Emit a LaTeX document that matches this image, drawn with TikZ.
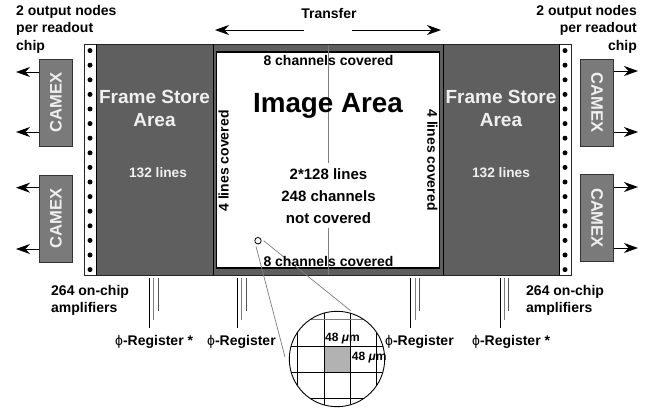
\documentclass[tikz,border=0pt]{standalone}
\usepackage{fontspec}
\setmainfont{Liberation Sans}
\usepackage{xcolor}
\usetikzlibrary{arrows.meta, positioning}
\definecolor{storegray}{RGB}{95, 95, 95}
\definecolor{camexgray}{RGB}{122, 122, 122}
\definecolor{linegray}{RGB}{125, 125, 125}
\definecolor{pixelgray}{RGB}{178, 178, 178}
\definecolor{paletext}{RGB}{240, 240, 240}
\newcommand{\regphi}{{\normalfont ϕ}}
\tikzset{
    lbl/.style={font=\fontsize{14}{17.5}\selectfont\bfseries, inner sep=0pt, align=left},
    whitelbl/.style={font=\fontsize{19}{23}\selectfont\bfseries, text=paletext, inner sep=0pt, align=center},
    camexbox/.style={draw=black!80, line width=0.9pt, fill=camexgray, minimum width=87pt, minimum height=33.5pt, inner sep=0pt, text=paletext, font=\fontsize{16.6}{20}\selectfont\bfseries},
    outarrow/.style={-{Stealth[length=14pt, width=10pt, inset=4.5pt]}, line width=0.9pt},
}
\begin{document}
\begin{tikzpicture}[x=1pt, y=-1pt, >=Stealth]
    \useasboundingbox (0,0) rectangle (649,409);

    % Chip outline and amplifier strips
    \fill[white] (84,44.5) rectangle (571,275.5);
    \fill[storegray] (96,44.5) rectangle (559,275.5);
    \foreach \row in {0,...,15} {
        \fill (90,50.6+14.6*\row) circle (2.5pt);
        \fill (565,50.6+14.6*\row) circle (2.5pt);
    }
    \draw[line width=0.9pt, black!85] (84,44.5) rectangle (571,275.5);
    \draw[line width=0.8pt] (96,44.5) -- (96,275.5);
    \draw[line width=0.8pt] (559,44.5) -- (559,275.5);

    % Image area
    \draw[line width=0.8pt] (213,44.5) -- (213,275.5);
    \draw[line width=0.8pt] (443.5,44.5) -- (443.5,275.5);
    \draw[line width=1.2pt, fill=white] (216.5,52) rectangle (439.5,268);
    \draw[linegray, line width=0.8pt] (328.5,45) -- (328.5,162.7);
    \draw[linegray, line width=0.8pt] (328.5,228) -- (328.5,275);

    % Pointer to the magnified pixels
    \node[draw, circle, line width=0.8pt, fill=white, minimum size=6.5pt, inner sep=0pt] (spot) at (258,240.7) {};
    \coordinate (zoomtop) at (351,311);
    \coordinate (zoomleft) at (285,357);
    \draw[linegray, line width=0.7pt] (spot.east) ++(2,0) -- (zoomtop);
    \draw[linegray, line width=0.7pt] (spot.south) ++(-2,2) -- (zoomleft);

    % Labels inside the image area
    \node[lbl] (covertop) at (328.5,60) {8 channels covered};
    \node[lbl] (coverbot) at (328.5,261) {8 channels covered};
    \node[lbl, rotate=90] (coverleft) at (223.5,161) {4 lines covered};
    \node[lbl, rotate=-90] (coverright) at (432.5,160) {4 lines covered};
    \node[font=\fontsize{27.8}{30}\selectfont\bfseries, inner sep=0pt] (image) at (328,106) {Image Area};
    \node[lbl, font=\fontsize{15}{22.3}\selectfont\bfseries, align=center] (imginfo) at (328.5,196) {2*128 lines\\248 channels\\not covered};

    % Frame store areas
    \node[whitelbl] (storel) at (154.5,108.5) {Frame Store\\Area};
    \node[whitelbl] (storer) at (501,108.5) {Frame Store\\Area};
    \node[lbl, font=\fontsize{13.7}{16}\selectfont\bfseries, text=paletext] (linesl) at (158,173) {132 lines};
    \node[lbl, font=\fontsize{13.7}{16}\selectfont\bfseries, text=paletext] (linesr) at (501,173) {132 lines};

    % Readout chips
    \node[camexbox, rotate=90] (camexa) at (56,102.5) {CAMEX};
    \node[camexbox, rotate=90] (camexb) at (56,218.5) {CAMEX};
    \node[camexbox, rotate=-90] (camexc) at (597,102.5) {CAMEX};
    \node[camexbox, rotate=-90] (camexd) at (597,218) {CAMEX};
    \foreach \y/\name in {72/a, 132/a, 187.7/b, 249/b} {
        \coordinate (out) at (16,\y);
        \draw[outarrow] (camex\name.north |- out) -- (out);
    }
    \foreach \y/\name in {71/c, 132/c, 187/d, 248/d} {
        \coordinate (out) at (638,\y);
        \draw[outarrow] (camex\name.north |- out) -- (out);
    }

    % Transfer direction
    \node[lbl] (transfer) at (329,13) {Transfer};
    \coordinate (transl) at (304,30);
    \coordinate (transll) at (215,30);
    \coordinate (transr) at (352,30);
    \coordinate (transrr) at (441,30);
    \draw[outarrow] (transl) -- (transll);
    \draw[outarrow] (transr) -- (transrr);

    % Output and amplifier notes
    \node[lbl, anchor=north west] (nodesl) at (16,5) {2 output nodes\\per readout\\chip};
    \node[lbl, anchor=north east, align=right] (nodesr) at (637,5) {2 output nodes\\per readout\\chip};
    \node[lbl, anchor=north west] (ampl) at (51,285) {264 on-chip\\amplifiers};
    \node[lbl, anchor=north west] (ampr) at (526,285) {264 on-chip\\amplifiers};

    % Register lines
    \foreach \x in {149.3, 237.3, 410.7, 500} {
        \draw[line width=0.9pt] (\x,278) -- (\x,328);
        \draw[linegray, line width=1.1pt] (\x+4.4,278) -- (\x+4.4,320);
        \draw[linegray!70!black, line width=0.9pt] (\x+8.8,278) -- (\x+8.8,311);
    }
    \node[lbl, anchor=west] (rega) at (115,342) {\regphi-Register *};
    \node[lbl, anchor=west] (regb) at (207,342) {\regphi-Register};
    \node[lbl, anchor=west] (regc) at (385,342) {\regphi-Register};
    \node[lbl, anchor=west] (regd) at (472,342) {\regphi-Register *};

    % Magnified pixels
    \fill[pixelgray] (324,346) rectangle (350,372);
    \begin{scope}
        \clip (337,359) circle (47.7pt);
        \foreach \x in {297.7, 324, 350, 376}
            \draw[line width=0.9pt] (\x,305) -- (\x,409);
        \foreach \y in {346, 372, 398.3}
            \draw[line width=0.9pt] (285,\y) -- (390,\y);
        \draw[linegray, line width=0.8pt] (285,319.5) -- (390,319.5);
    \end{scope}
    \draw[line width=0.9pt] (337,359) circle (47.7pt);
    \node[lbl, font=\fontsize{12}{14}\selectfont\bfseries, anchor=west] (pitchx) at (325,339) {48 \textit{μ}m};
    \node[lbl, font=\fontsize{12}{14}\selectfont\bfseries, anchor=west] (pitchy) at (351.7,358) {48 \textit{μ}m};
\end{tikzpicture}
\end{document}
